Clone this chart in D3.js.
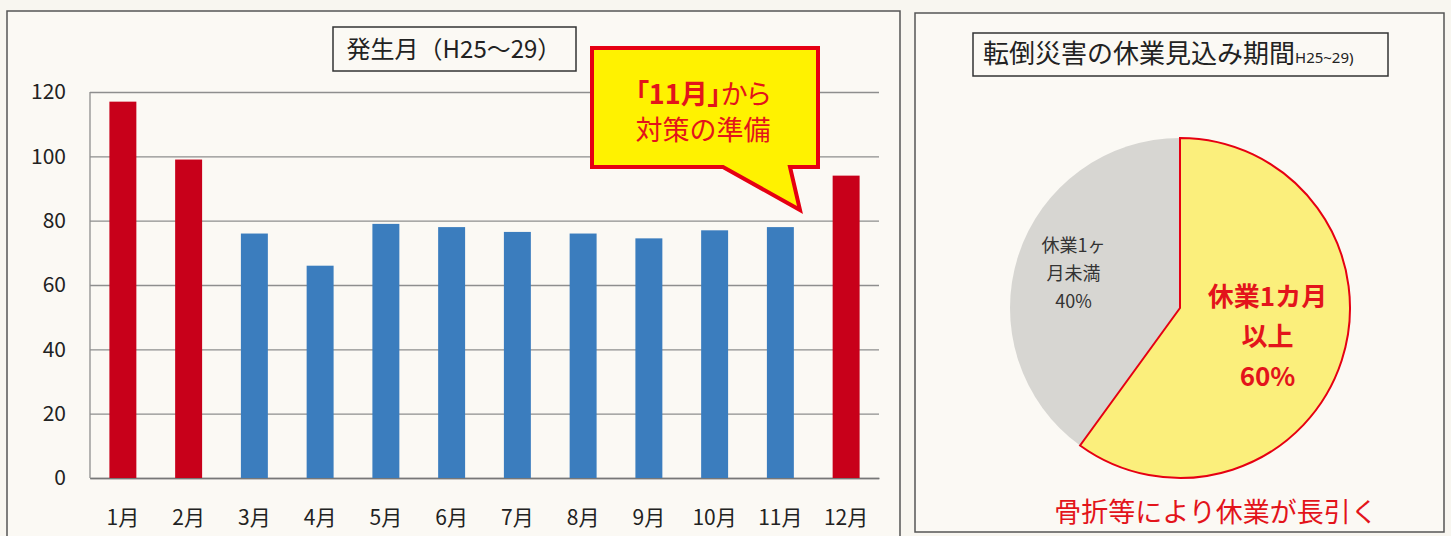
<!DOCTYPE html>
<html>
<head>
<meta charset="utf-8">
<script src="https://cdn.jsdelivr.net/npm/d3@7"></script>
<style>
  html, body { margin: 0; padding: 0; background: #f8f6f0; }
  svg { display: block; }
  text { font-family: "Noto Sans CJK JP", "Noto Sans", sans-serif; }
  .palt { font-feature-settings: "palt"; }
</style>
</head>
<body>
<svg id="chart" width="1451" height="536"></svg>
<script>
// ---------- data ----------
const months = ["1月","2月","3月","4月","5月","6月","7月","8月","9月","10月","11月","12月"];
const counts = [117, 99, 76, 66, 79, 78, 76.5, 76, 74.5, 77, 78, 94];
const highlight = [1, 1, 0, 0, 0, 0, 0, 0, 0, 0, 0, 1];
const yTicks = [0, 20, 40, 60, 80, 100, 120];
const barTitle = "発生月（H25〜29）";
const calloutLines = [["「11月」", "から"], ["対策の準備"]];

const pieNames = ["休業1カ月以上", "休業1ヶ月未満"];
const pieValues = [60, 40];
const pieLabelLines = [["休業1カ月", "以上", "60%"], ["休業1ヶ", "月未満", "40%"]];
const pieTitle = "転倒災害の休業見込み期間";
const pieTitleSmall = "H25~29)";
const pieNote = "骨折等により休業が長引く";

// ---------- setup ----------
const svg = d3.select("#chart");
const RED = "#c8001a", BLUE = "#3b7dbe", TXTRED = "#e3141b";

// panels
svg.append("rect").attr("x", 7).attr("y", 11).attr("width", 893).attr("height", 540)
  .attr("fill", "#fbf9f4").attr("stroke", "#555").attr("stroke-width", 1.5);
svg.append("rect").attr("x", 915).attr("y", 13).attr("width", 529).attr("height", 519)
  .attr("fill", "#fbf9f4").attr("stroke", "#555").attr("stroke-width", 1.5);

// ---------- bar chart ----------
const x = d3.scaleBand().domain(months).range([90, 879]).paddingInner(0.59).paddingOuter(0.295);
const y = d3.scaleLinear().domain([0, 120]).range([478, 92]);

const yAxis = svg.append("g").attr("transform", "translate(90,0)")
  .call(d3.axisLeft(y).tickValues(yTicks).tickSize(-789).tickPadding(24).tickFormat(d3.format("d")));
yAxis.select(".domain").remove();
yAxis.selectAll(".tick line").attr("stroke", "#8e8e8e").attr("stroke-width", 1.3);
yAxis.selectAll(".tick text").attr("fill", "#222").attr("font-size", 21)
  .attr("font-family", "'Noto Sans', sans-serif");
// left axis line
svg.append("line").attr("x1", 90).attr("x2", 90).attr("y1", y(120)).attr("y2", y(0))
  .attr("stroke", "#8e8e8e").attr("stroke-width", 1.3);

const xAxis = svg.append("g").attr("transform", `translate(0,${y(0)})`)
  .call(d3.axisBottom(x).tickSize(0).tickPadding(32));
xAxis.select(".domain").attr("stroke", "#777").attr("stroke-width", 1.5);
xAxis.selectAll(".tick text").attr("fill", "#222").attr("font-size", 21);

svg.append("g").selectAll("rect").data(months).join("rect")
  .attr("x", d => x(d))
  .attr("width", x.bandwidth())
  .attr("y", (d, i) => y(counts[i]))
  .attr("height", (d, i) => y(0) - y(counts[i]))
  .attr("fill", (d, i) => highlight[i] ? RED : BLUE);

// title box
svg.append("rect").attr("x", 333).attr("y", 27).attr("width", 243).attr("height", 44)
  .attr("fill", "#fbf9f4").attr("stroke", "#333").attr("stroke-width", 1.5);
svg.append("text").attr("x", 454).attr("y", 57.5).attr("text-anchor", "middle")
  .attr("font-size", 24).attr("fill", "#222").text(barTitle);

// callout
const cl = 592, cr = 818, ct = 48, cb = 167;
const tailX1 = 723, tailX2 = 790, tipX = 800, tipY = 210;
const cp = d3.path();
cp.moveTo(cl, ct); cp.lineTo(cr, ct); cp.lineTo(cr, cb); cp.lineTo(tailX2, cb);
cp.lineTo(tipX, tipY); cp.lineTo(tailX1, cb); cp.lineTo(cl, cb); cp.closePath();
svg.append("path").attr("d", cp.toString()).attr("fill", "#fff200")
  .attr("stroke", "#e60012").attr("stroke-width", 4).attr("stroke-linejoin", "miter");
const ct1 = svg.append("text").attr("class", "palt").attr("x", 703).attr("y", 104).attr("text-anchor", "middle")
  .attr("font-size", 27).attr("fill", TXTRED);
ct1.append("tspan").attr("font-weight", "bold").text(calloutLines[0][0]);
ct1.append("tspan").text(calloutLines[0][1]);
svg.append("text").attr("x", 703).attr("y", 140).attr("text-anchor", "middle")
  .attr("font-size", 27).attr("fill", TXTRED).text(calloutLines[1][0]);

// ---------- pie chart ----------
svg.append("rect").attr("x", 973).attr("y", 33).attr("width", 415).attr("height", 43)
  .attr("fill", "#fbf9f4").attr("stroke", "#333").attr("stroke-width", 1.5);
const pt = svg.append("text").attr("x", 983).attr("y", 63).attr("font-size", 26).attr("fill", "#222");
pt.append("tspan").text(pieTitle);
pt.append("tspan").attr("font-size", 15).attr("font-family", "'Noto Sans', sans-serif").text(pieTitleSmall);

const cx = 1180, cy = 308, R = 170;
const pie = d3.pie().sort(null).value(d => d);
const arcs = pie(pieValues);
const arc = d3.arc().innerRadius(0).outerRadius(R);
const pg = svg.append("g").attr("transform", `translate(${cx},${cy})`);
pg.selectAll("path").data(arcs).join("path")
  .attr("d", arc)
  .attr("fill", (d, i) => i === 0 ? "#fbef7c" : "#d7d6d2")
  .attr("stroke", "none");
// red outline of the yellow slice
pg.append("path").datum(arcs[0]).attr("d", arc).attr("fill", "none")
  .attr("stroke", "#e60012").attr("stroke-width", 2);

const labelR = [92, 112];
const styles = [
  { size: 26, weight: "bold", fill: TXTRED, lh: 40 },
  { size: 18, weight: "normal", fill: "#333", lh: 28 }
];
arcs.forEach((a, i) => {
  const c = d3.arc().innerRadius(labelR[i]).outerRadius(labelR[i]).centroid(a);
  const st = styles[i];
  const lines = pieLabelLines[i];
  const t = pg.append("text").attr("text-anchor", "middle")
    .attr("font-size", st.size).attr("font-weight", st.weight).attr("fill", st.fill);
  lines.forEach((ln, k) => {
    t.append("tspan").attr("x", c[0])
      .attr("y", c[1] + (k - (lines.length - 1) / 2) * st.lh + st.size * 0.36)
      .text(ln);
  });
});

svg.append("text").attr("x", 1216).attr("y", 522).attr("text-anchor", "middle")
  .attr("font-size", 27).attr("fill", TXTRED).text(pieNote);
</script>
</body>
</html>
